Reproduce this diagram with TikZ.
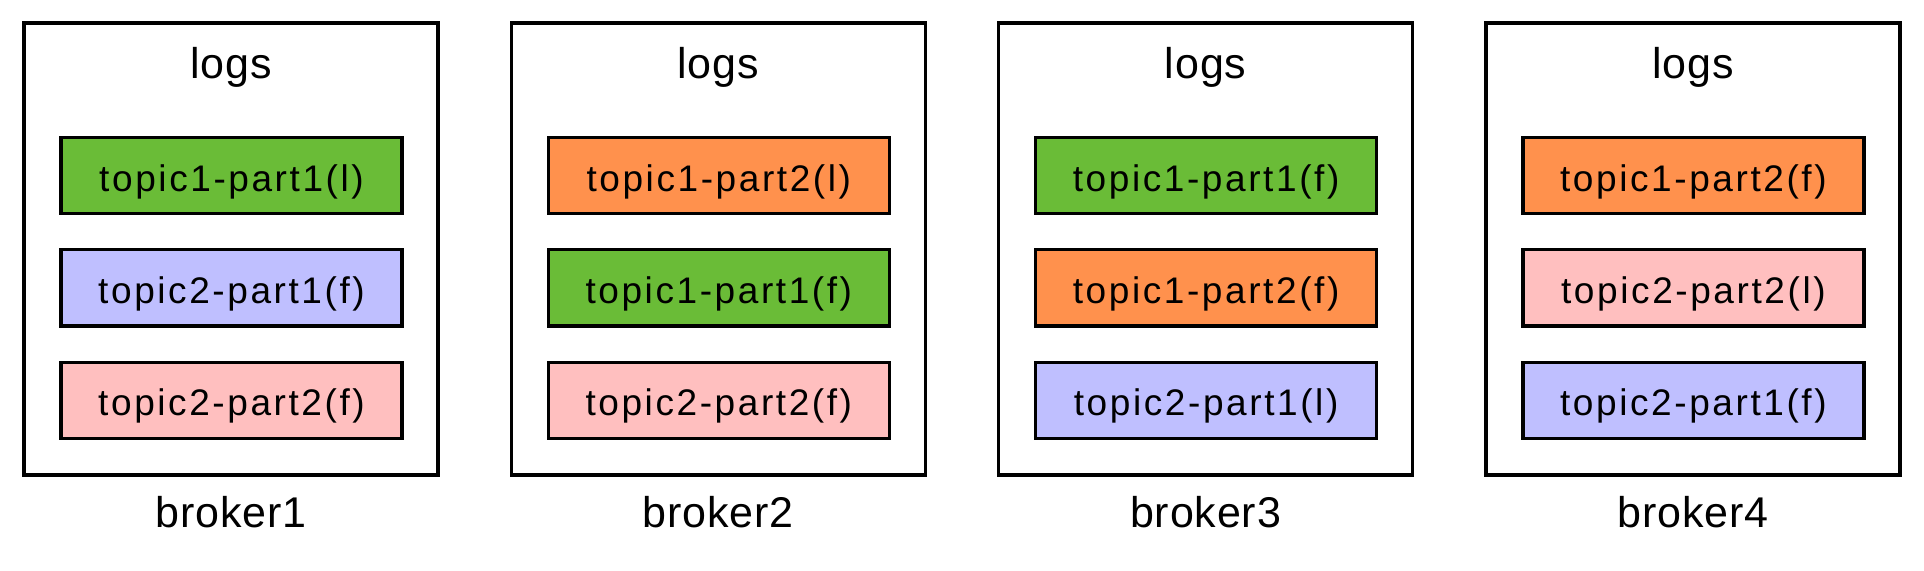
\documentclass[tikz,border=0pt]{standalone}
\usepackage{fontspec}
\setmainfont{Liberation Sans}
\newfontfamily\lblfont[LetterSpace=2]{Liberation Sans}
\newfontfamily\topfont[LetterSpace=7]{Liberation Sans}
\definecolor{pgreen}{RGB}{106,188,55}
\definecolor{porange}{RGB}{255,145,77}
\definecolor{pblue}{RGB}{191,191,255}
\definecolor{ppink}{RGB}{255,191,191}
\begin{document}
\begin{tikzpicture}[x=0.5pt,y=-0.5pt,
  outerbox/.style={draw, line width=1.7pt, minimum width=207pt, minimum height=226pt, inner sep=0pt},
  part/.style={draw, line width=1.6pt, minimum width=170.5pt, minimum height=38.2pt, inner sep=0pt,
    font=\topfont\fontsize{18.5}{18.5}\selectfont, text height=18pt, text depth=2.4pt},
  lbl/.style={anchor=base, inner sep=0pt, font=\lblfont\fontsize{21.5}{22}\selectfont}]
\useasboundingbox (0,0) rectangle (1924,570);
\foreach \i/\ca/\ta/\cb/\tb/\cc/\tc in {
  1/pgreen/topic1-part1(l)/pblue/topic2-part1(f)/ppink/topic2-part2(f),
  2/porange/topic1-part2(l)/pgreen/topic1-part1(f)/ppink/topic2-part2(f),
  3/pgreen/topic1-part1(f)/porange/topic1-part2(f)/pblue/topic2-part1(l),
  4/porange/topic1-part2(f)/ppink/topic2-part2(l)/pblue/topic2-part1(f)}{
  \pgfmathsetmacro{\cx}{231+487.3*(\i-1)}
  \node[outerbox] (box\i) at (\cx,249) {};
  \node[lbl] (logs\i) at (\cx,78.3) {logs};
  \node[part, fill=\ca] (p\i a) at (\cx+0.5,175.5) {\ta};
  \node[part, fill=\cb] (p\i b) at (\cx+0.5,287.7) {\tb};
  \node[part, fill=\cc] (p\i c) at (\cx+0.5,400.3) {\tc};
  \node[lbl] (broker\i) at (\cx,527.5) {broker\i};
}
\end{tikzpicture}
\end{document}
